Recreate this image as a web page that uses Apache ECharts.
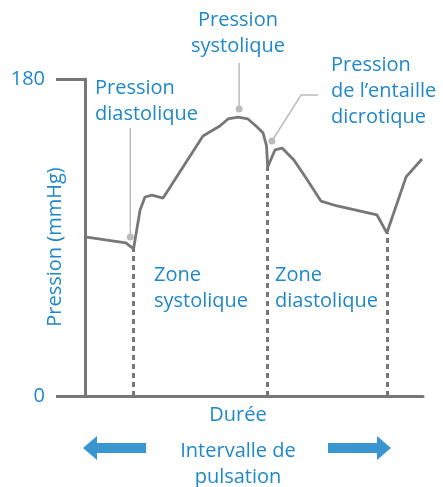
<!DOCTYPE html>
<html>
<head>
<meta charset="utf-8">
<script src="https://cdn.jsdelivr.net/npm/echarts@6/dist/echarts.min.js"></script>
<style>
html, body { margin: 0; padding: 0; background: #fff; }
#pulse { width: 443px; height: 487px; }
</style>
</head>
<body>
<div id="pulse"></div>
<script>
// courbe de pression (temps en unités arbitraires, pression en mmHg)
var timeVals = [0, 12.1, 14.35, 16.3, 17.75, 19.8, 23.1, 34.9, 39.9, 42.3, 45.3, 48.2, 50.6, 52.7, 53.7, 54.05, 56.2, 58.3, 61.8, 65.4, 69.8, 74.6, 86.4, 89.3, 95, 99.7];
var pressureVals = [90.3, 86.9, 83.5, 105.6, 113, 114.1, 112.4, 147.6, 153.3, 157.3, 158.4, 157.3, 153.3, 149.3, 142, 130, 139.7, 140.8, 134, 123.8, 110.7, 107.9, 102.8, 92.6, 124.4, 134.6];
// limites des zones (pointillés)
var zoneTimes = [14.35, 54.05, 89.3];
var zonePressures = [83.5, 130, 92.6];
// lignes de rappel des annotations
var leaderDiast = [[13.4, 152.2], [13.4, 90.3]];
var leaderSyst = [[45.6, 189.1], [45.6, 163]];
var leaderDicro = [[68.9, 170.9], [63.9, 170.9], [55.3, 144.8]];
var yTicks = [0, 180];

var blue = '#1f88c9';
var gray = '#777777';
var font = '"Open Sans"';

var dom = document.getElementById('pulse');
var myChart = echarts.init(dom);

function leader(pts) {
    return pts.map(function (p, i) {
        return i === pts.length - 1
            ? { value: p, symbol: 'circle', symbolSize: 7 }
            : { value: p, symbol: 'none' };
    });
}

function txt(x, y, str, align) {
    return {
        type: 'text', x: x, y: y,
        style: { text: str, fill: blue, font: '20px ' + font, align: align || 'left', verticalAlign: 'top', lineHeight: 26 }
    };
}

var curve = timeVals.map(function (t, i) { return [t, pressureVals[i]]; });
var zoneLines = zoneTimes.map(function (t, i) {
    return [{ coord: [t, 0] }, { coord: [t, zonePressures[i]] }];
});

var option = {
    animation: false,
    grid: { left: 85, right: 20, top: 79, bottom: 91, containLabel: false, outerBoundsMode: 'none' },
    xAxis: {
        type: 'value', min: 0, max: 100,
        axisLine: { lineStyle: { color: gray, width: 3 } },
        axisTick: { show: false }, axisLabel: { show: false }, splitLine: { show: false }
    },
    yAxis: {
        type: 'value', min: yTicks[0], max: yTicks[1], interval: 180,
        axisLine: { show: true, lineStyle: { color: gray, width: 3 } },
        axisTick: { show: true, length: 29, lineStyle: { color: gray, width: 3 } },
        axisLabel: { color: blue, fontSize: 20, fontFamily: font, margin: 40 },
        splitLine: { show: false }
    },
    series: [
        {
            type: 'line', data: curve, symbol: 'none', silent: true,
            lineStyle: { color: gray, width: 2.8 },
            markLine: {
                silent: true, symbol: 'none', label: { show: false },
                lineStyle: { color: gray, width: 3, type: [5, 4] },
                data: zoneLines
            }
        },
        { type: 'line', data: leader(leaderDiast), clip: false, silent: true, color: '#bbbbbb', lineStyle: { color: '#bbbbbb', width: 1.5 } },
        { type: 'line', data: leader(leaderSyst), clip: false, silent: true, color: '#bbbbbb', lineStyle: { color: '#bbbbbb', width: 1.5 } },
        { type: 'line', data: leader(leaderDicro), clip: false, silent: true, color: '#bbbbbb', lineStyle: { color: '#bbbbbb', width: 1.5 } }
    ],
    graphic: [
        { type: 'text', x: 55, y: 247, rotation: Math.PI / 2, style: { text: 'Pression (mmHg)', fill: blue, font: '20px ' + font, align: 'center', verticalAlign: 'middle' } },
        txt(95, 75, 'Pression\ndiastolique'),
        txt(238, 7, 'Pression\nsystolique', 'center'),
        txt(331, 52, 'Pression\nde l\u2019entaille\ndicrotique'),
        txt(154, 262, 'Zone\nsystolique'),
        txt(275, 262, 'Zone\ndiastolique'),
        txt(238, 402, 'Durée', 'center'),
        txt(238, 438, 'Intervalle de\npulsation', 'center'),
        { type: 'polygon', shape: { points: [[83, 448], [97, 436], [97, 443], [146, 443], [146, 453], [97, 453], [97, 460]] }, style: { fill: '#3a96d0' } },
        { type: 'polygon', shape: { points: [[391, 448], [377, 436], [377, 443], [328, 443], [328, 453], [377, 453], [377, 460]] }, style: { fill: '#3a96d0' } }
    ]
};

if (option && typeof option === 'object') {
    myChart.setOption(option, true);
    window.addEventListener('resize', function () { myChart.resize(); });
}
</script>
</body>
</html>
